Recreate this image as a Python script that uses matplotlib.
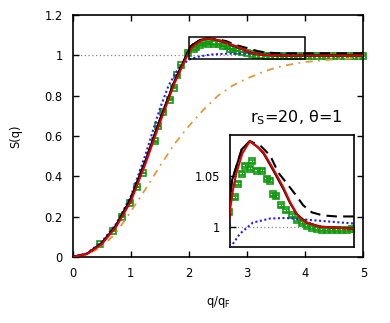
import matplotlib.pyplot as plt
from matplotlib.patches import Rectangle

# PIMC S(q)
q_pimc = [0.48, 0.69, 0.845, 0.986, 1.10, 1.21, 1.41, 1.47, 1.56, 1.67, 1.74, 1.79, 1.87, 1.98,
          2.08, 2.13, 2.19, 2.24, 2.32, 2.35, 2.43, 2.51, 2.59, 2.65, 2.70, 2.75, 2.83, 2.91,
          3.00, 3.08, 3.16, 3.24, 3.32, 3.40, 3.48, 3.56, 3.64, 3.72, 3.80, 3.88, 3.96,
          4.04, 4.12, 4.20, 4.28, 4.36, 4.44, 4.52, 4.60, 4.68, 4.76, 4.84, 4.92, 5.00]
s_pimc = [0.063, 0.13, 0.20, 0.27, 0.347, 0.417, 0.573, 0.649, 0.72, 0.78, 0.84, 0.90, 0.95, 1.014,
          1.029, 1.042, 1.052, 1.060, 1.057, 1.064, 1.055, 1.055, 1.047, 1.045, 1.032, 1.030, 1.021, 1.016,
          1.011, 1.007, 1.004, 1.001, 0.999, 0.998, 0.997, 0.997, 0.997, 0.997, 0.997, 0.997, 0.998,
          0.998, 0.998, 0.998, 0.998, 0.998, 0.998, 0.999, 0.999, 0.999, 0.999, 0.999, 0.999, 0.999]

# red solid
q_red = [0, 0.25, 0.5, 0.75, 1.0, 1.25, 1.5, 1.75, 1.9, 2.0, 2.05, 2.1, 2.2, 2.32, 2.45, 2.54,
         2.70, 2.86, 2.97, 3.08, 3.16, 3.24, 3.45, 3.7, 4.0, 4.5, 5.0]
s_red = [0, 0.015, 0.063, 0.15, 0.275, 0.46, 0.665, 0.86, 0.955, 1.016, 1.037, 1.052, 1.072, 1.084,
         1.078, 1.073, 1.0565, 1.0386, 1.024, 1.0124, 1.007, 1.004, 1.0, 0.999, 0.998, 0.999, 1.0]

# black solid (mostly hidden below red)
q_blk = [0, 0.25, 0.5, 0.75, 1.0, 1.25, 1.5, 1.75, 1.9, 2.03, 2.19, 2.32, 2.45, 2.54, 2.70,
         2.86, 2.97, 3.08, 3.24, 3.45, 4.0, 5.0]
s_blk = [0, 0.016, 0.068, 0.157, 0.29, 0.475, 0.68, 0.87, 0.965, 1.045, 1.076, 1.084, 1.078, 1.072,
         1.055, 1.037, 1.023, 1.012, 1.004, 1.0, 0.998, 1.0]

# black dashed
q_dash = [0, 0.25, 0.5, 0.75, 1.0, 1.25, 1.5, 1.75, 1.9, 2.03, 2.19, 2.32, 2.5, 2.65, 2.78,
          2.91, 3.05, 3.18, 3.32, 3.5, 3.72, 4.0, 4.5, 5.0]
s_dash = [0, 0.016, 0.068, 0.157, 0.29, 0.475, 0.68, 0.87, 0.965, 1.045, 1.076, 1.084, 1.079, 1.0696,
          1.053, 1.043, 1.032, 1.021, 1.014, 1.011, 1.010, 1.010, 1.010, 1.010]

# blue dotted
q_blue = [0, 0.25, 0.5, 0.75, 1.0, 1.25, 1.5, 1.65, 1.8, 1.9, 2.0, 2.16, 2.37, 2.65, 2.9,
          3.2, 3.6, 4.0, 4.5, 5.0]
s_blue = [0, 0.019, 0.075, 0.165, 0.30, 0.505, 0.735, 0.85, 0.925, 0.955, 0.979, 0.993, 1.004, 1.008,
          1.0085, 1.007, 1.005, 1.003, 1.001, 1.0]

# orange dash-dot
q_or = [0, 0.25, 0.5, 0.75, 1.0, 1.25, 1.5, 1.75, 2.0, 2.25, 2.5, 2.75, 3.0, 3.25, 3.5,
        3.75, 4.0, 4.5, 5.0]
s_or = [0, 0.012, 0.05, 0.12, 0.225, 0.335, 0.45, 0.56, 0.65, 0.73, 0.80, 0.85, 0.885, 0.915,
        0.94, 0.955, 0.967, 0.98, 0.988]

GREEN = '#109a10'
RED = '#dd0000'
BLUE = '#2222ee'
ORANGE = '#e09a3a'

plt.rcParams['font.family'] = 'DejaVu Sans'
plt.rcParams['font.size'] = 8.3


def draw(ax, big):
    lw = 1.5
    ax.axhline(1.0, color='#888888', ls=(0, (1, 2)), lw=0.9, zorder=1)
    ax.errorbar(q_pimc, s_pimc, yerr=0.0015, fmt='s', ms=5, mfc='none', mec=GREEN, mew=1.2,
                ecolor=GREEN, elinewidth=1.0, capsize=2.0, zorder=2, clip_on=not big)
    ax.plot(q_or, s_or, color=ORANGE, lw=1.3, ls=(0, (4, 3, 1, 3)), zorder=3)
    ax.plot(q_blue, s_blue, color=BLUE, lw=lw, ls=(0, (1, 1.2)), zorder=4)
    ax.plot(q_dash, s_dash, color='black', lw=lw, ls=(0, (5, 3)), zorder=5)
    ax.plot(q_blk, s_blk, color='black', lw=lw, zorder=6)
    ax.plot(q_red, s_red, color=RED, lw=lw, zorder=7)


fig = plt.figure(figsize=(3.9, 3.23), dpi=100)
ax = fig.add_axes([0.186, 0.2043, 0.746, 0.7493])
draw(ax, True)
ax.set_xlim(0, 5)
ax.set_ylim(0, 1.2)
ax.set_xticks([0, 1, 2, 3, 4, 5])
ax.set_yticks([0, 0.2, 0.4, 0.6, 0.8, 1.0, 1.2])
ax.set_yticklabels(['0', '0.2', '0.4', '0.6', '0.8', '1', '1.2'])
ax.tick_params(direction='in', length=4.5, width=1, pad=7, top=True, right=True)
for sp in ax.spines.values():
    sp.set_linewidth(1.2)
ax.set_xlabel('q/q$_\\mathregular{F}$', labelpad=10)
ax.set_ylabel('S(q)', labelpad=16)
ax.add_patch(Rectangle((2, 0.98), 2, 0.11, fill=False, ec='black', lw=1.1, zorder=8))
ax.text(3.05, 0.669, 'r$_\\mathregular{S}$=20, θ=1', fontsize=11.5, ha='left', va='baseline')

ins = fig.add_axes([0.5897, 0.2353, 0.318, 0.3467])
draw(ins, False)
ins.set_xlim(2, 4)
ins.set_ylim(0.98, 1.09)
ins.set_xticks([])
ins.set_yticks([1.0, 1.05])
ins.set_yticklabels(['1', '1.05'])
ins.tick_params(direction='in', length=4.5, width=1, pad=7)
for sp in ins.spines.values():
    sp.set_linewidth(1.2)

fig.savefig('out.png', dpi=100)
